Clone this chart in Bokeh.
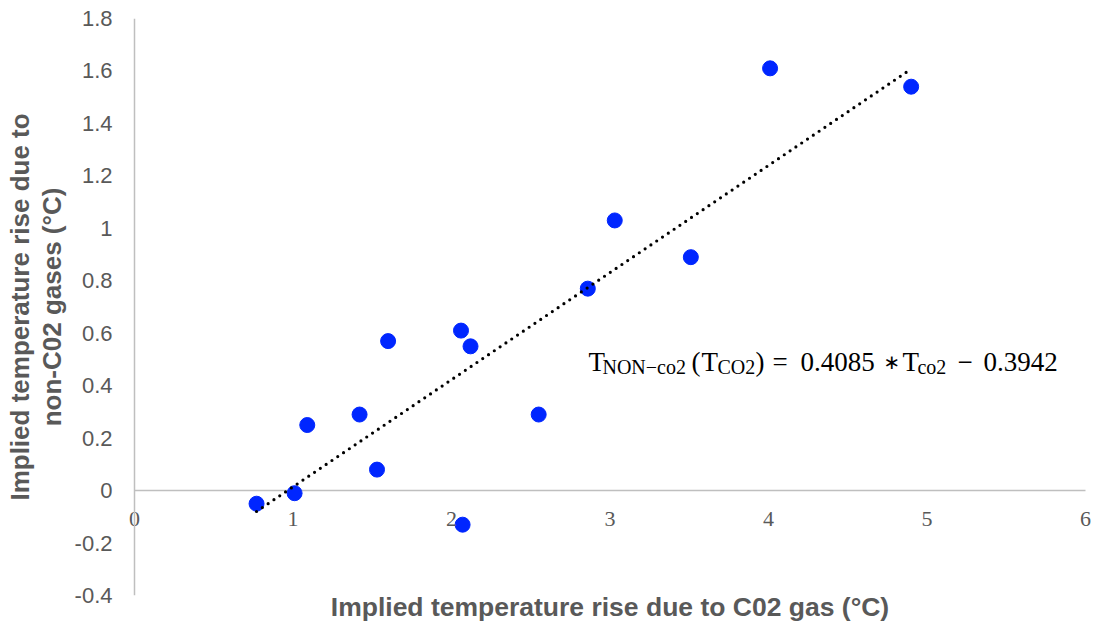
from bokeh.plotting import figure
from bokeh.models import (Range1d, FixedTicker, NumeralTickFormatter, Label,
                          LabelSet, ColumnDataSource, Span)
from bokeh.embed import file_html
from bokeh.resources import INLINE

# ---- data ----
x_co2 = [0.77, 1.01, 1.09, 1.42, 1.53, 1.60, 2.06, 2.12, 2.07, 2.55, 2.86, 3.03, 3.51, 4.01, 4.90]
y_non_co2 = [-0.05, -0.01, 0.25, 0.29, 0.08, 0.57, 0.61, 0.55, -0.13, 0.29, 0.77, 1.03, 0.89, 1.61, 1.54]
trend_slope = 0.4085
trend_intercept = -0.3942
x_ticks = [0, 1, 2, 3, 4, 5, 6]
x_tick_labels = ["0", "1", "2", "3", "4", "5", "6"]
y_ticks = [-0.4, -0.2, 0, 0.2, 0.4, 0.6, 0.8, 1, 1.2, 1.4, 1.6, 1.8]
x_title = "Implied temperature rise due to C02 gas (°C)"
y_title = "Implied temperature rise due to\nnon-C02 gases (°C)"

GREY_TXT = "#595959"
GREY_LINE = "#bfbfbf"

# small horizontal padding so that the "0" and "6" labels are not clipped
pad = 0.0505
p = figure(width=1096, height=628, x_range=Range1d(x_ticks[0] - pad, x_ticks[-1] + pad),
           y_range=Range1d(y_ticks[0], y_ticks[-1]),
           output_backend="svg", toolbar_location=None,
           min_border_left=126, min_border_right=3, min_border_top=18, min_border_bottom=33)
p.grid.visible = False
p.outline_line_color = None
p.background_fill_color = "white"

# bottom axis only carries the title
xa = p.xaxis[0]
xa.ticker = FixedTicker(ticks=[])
xa.axis_line_color = None
xa.major_tick_line_color = None
xa.minor_tick_line_color = None
xa.major_tick_out = 0
xa.major_label_standoff = 0
xa.axis_label = x_title
xa.axis_label_standoff = -4
xa.axis_label_text_font = "Liberation Sans"
xa.axis_label_text_font_size = "26.5px"
xa.axis_label_text_font_style = "bold"
xa.axis_label_text_color = GREY_TXT

# horizontal axis line at y = 0 and its labels
p.segment(x0=[x_ticks[0]], y0=[0], x1=[x_ticks[-1]], y1=[0], line_color=GREY_LINE, line_width=1.5)
xlab_src = ColumnDataSource(data=dict(x=x_ticks, y=[0] * len(x_ticks), text=x_tick_labels))
p.add_layout(LabelSet(x="x", y="y", text="text", source=xlab_src, y_offset=-21,
                      text_align="center", text_baseline="top",
                      text_font="Liberation Sans", text_font_size="22px", text_color=GREY_TXT))

# vertical axis line at x = 0
p.add_layout(Span(location=0, dimension="height", line_color=GREY_LINE, line_width=1.5))

# y axis (labels + title)
ya = p.yaxis[0]
ya.ticker = FixedTicker(ticks=y_ticks)
ya.formatter = NumeralTickFormatter(format="0.[0]")
ya.major_tick_line_color = None
ya.minor_tick_line_color = None
ya.major_tick_out = 0
ya.major_tick_in = 0
ya.axis_line_color = None
ya.major_label_standoff = 14
ya.major_label_text_font = "Liberation Sans"
ya.major_label_text_font_size = "22px"
ya.major_label_text_color = GREY_TXT
ya.axis_label = y_title
ya.axis_label_standoff = 5
ya.axis_label_text_font = "Liberation Sans"
ya.axis_label_text_font_size = "26px"
ya.axis_label_text_font_style = "bold"
ya.axis_label_text_color = GREY_TXT
ya.axis_label_text_line_height = 1.05

# points
p.scatter(x_co2, y_non_co2, size=15, marker="circle", fill_color="#0026ff", line_color="#0026ff")

# linear trend line (dotted)
tx = [min(x_co2), max(x_co2)]
ty = [trend_slope * v + trend_intercept for v in tx]
p.line(tx, ty, line_color="black", line_width=3.2, line_dash="0 7", line_cap="round")

# equation
eq_x, eq_y = 2.864, 0.492
eq_parts = [
    ("T", 0, 0, "27px", "Liberation Serif"),
    ("NON\u2212co2", 14, -5, "20px", "Liberation Serif"),
    ("(", 103, 0, "27px", "Liberation Serif"),
    ("T", 113, 0, "27px", "Liberation Serif"),
    ("CO2", 129, -5, "20px", "Liberation Serif"),
    (")", 167, 0, "27px", "Liberation Serif"),
    ("=", 184, 0, "27px", "Liberation Serif"),
    ("0.4085", 212, 0, "27px", "Liberation Serif"),
    ("\u2217", 295, 0, "20px", "DejaVu Sans"),
    ("T", 314, 0, "27px", "Liberation Serif"),
    ("co2", 329, -5, "20px", "Liberation Serif"),
    ("\u2212", 369, 0, "27px", "Liberation Serif"),
    ("0.3942", 395, 0, "27px", "Liberation Serif"),
]
for txt, dx, dy, fs, fnt in eq_parts:
    p.add_layout(Label(x=eq_x, y=eq_y, x_offset=dx, y_offset=dy, text=txt,
                       text_font=fnt, text_font_size=fs,
                       text_baseline="alphabetic", text_align="left", text_color="black"))

open("out.html", "w").write(file_html(p, INLINE))
